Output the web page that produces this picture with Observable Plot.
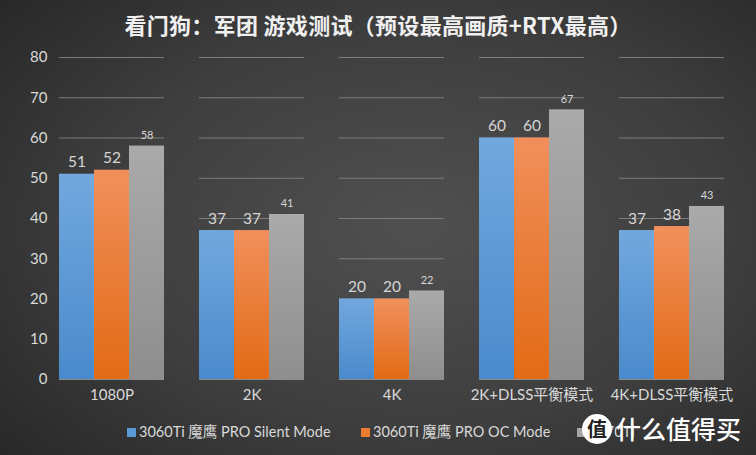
<!DOCTYPE html>
<html><head><meta charset="utf-8">
<script src="https://cdn.jsdelivr.net/npm/d3@7"></script>
<script src="https://cdn.jsdelivr.net/npm/@observablehq/plot@0.6"></script>
<style>
body{margin:0;background:#2a2a2a;}
#wrap{position:relative;width:756px;height:455px;overflow:hidden;
 background:radial-gradient(ellipse 75% 80% at 55% 50%, #505050 0%, #3e3e3e 55%, #262626 100%);
 font-family:Lato,"Noto Sans CJK SC",sans-serif;}
#title{height:42px;line-height:48px;text-align:center;color:#f0f0f0;font-weight:bold;font-size:22px;font-family:"Noto Sans CJK SC",sans-serif;letter-spacing:0.3px;}
#chart svg{display:block;}
.leg{position:absolute;top:423px;color:#d9d9d9;font-size:14.5px;font-family:Lato,"Noto Sans CJK SC",sans-serif;white-space:nowrap;line-height:17px;}
.leg i{display:inline-block;width:9px;height:9px;margin-right:3px;vertical-align:0px;}
#wm{position:absolute;left:582px;top:414px;width:30px;height:30px;border-radius:50%;background:#fff;color:#222;font:bold 20px/30px "Noto Sans CJK SC";text-align:center;}
#wmt{position:absolute;left:616px;top:410px;color:#fff;font:500 25px/36px "Noto Sans CJK SC";}
</style></head>
<body>
<div id="wrap">
  <div id="title"></div>
  <div id="chart"></div>
  <div id="legend"></div>
  <div id="wm">值</div>
  <div id="wmt">什么值得买</div>
</div>
<script>
const titleText = "看门狗：军团 游戏测试（预设最高画质+RTX最高）";
const categories = ["1080P", "2K", "4K", "2K+DLSS平衡模式", "4K+DLSS平衡模式"];
const seriesNames = ["3060Ti 魔鹰 PRO Silent Mode", "3060Ti 魔鹰 PRO OC Mode", "3070Ti"];
const silentValues = [51, 37, 20, 60, 37];
const ocValues = [52, 37, 20, 60, 38];
const tiValues = [58, 41, 22, 67, 43];
const yTicks = [0, 10, 20, 30, 40, 50, 60, 70, 80];

document.getElementById("title").textContent = titleText;

const seriesValues = [silentValues, ocValues, tiValues];
const data = [];
seriesNames.forEach((s, si) => categories.forEach((c, ci) => data.push({cat: c, series: s, value: seriesValues[si][ci]})));
const bySeries = s => data.filter(d => d.series === s);
const gradIds = ["gBlue", "gOrange", "gGray"];

const plot = Plot.plot({
  width: 756, height: 368,
  marginLeft: 40, marginRight: 14, marginTop: 15, marginBottom: 31,
  style: {background: "transparent", color: "#d9d9d9", fontFamily: "Lato, 'Noto Sans CJK SC', sans-serif", fontSize: "15px"},
  fx: {domain: categories, paddingInner: 0.25, paddingOuter: 0.125, label: null, axis: "bottom", tickSize: 0, tickPadding: 10},
  x: {domain: seriesNames, padding: 0, axis: null},
  y: {domain: [0, 80], ticks: yTicks, tickSize: 0, tickPadding: 12, label: null},
  marks: [
    Plot.ruleY(yTicks.filter(t => t > 0), {stroke: "#7c7c7c", strokeWidth: 1}),
    ...seriesNames.map((s, i) => Plot.barY(bySeries(s), {fx: "cat", x: "series", y: "value", fill: `url(#${gradIds[i]})`})),
    Plot.ruleY([0], {stroke: "#8c8c8c", strokeWidth: 1}),
    Plot.text(bySeries(seriesNames[0]).concat(bySeries(seriesNames[1])), {fx: "cat", x: "series", y: "value", text: d => String(d.value), lineAnchor: "bottom", dy: -7, fontSize: 15.5, fill: "#d6d6d6"}),
    Plot.text(bySeries(seriesNames[2]), {fx: "cat", x: "series", y: "value", text: d => String(d.value), lineAnchor: "bottom", dy: -7, fontSize: 11, fill: "#d6d6d6"})
  ]
});

// gradients for bars
const svg = d3.select(plot);
const defs = svg.insert("defs", ":first-child");
const grads = [["gBlue", "#72a8de", "#4a8acc"], ["gOrange", "#f18f5c", "#e26b15"], ["gGray", "#aaaaaa", "#8e8e8e"]];
grads.forEach(([id, a, b]) => {
  const g = defs.append("linearGradient").attr("id", id).attr("x1", 0).attr("y1", 0).attr("x2", 0).attr("y2", 1);
  g.append("stop").attr("offset", "0%").attr("stop-color", a);
  g.append("stop").attr("offset", "100%").attr("stop-color", b);
});
document.getElementById("chart").appendChild(plot);

// legend
const legColors = ["#5b9bd5", "#ed7d31", "#a5a5a5"];
const legLeft = [127, 361, 577];
const legend = document.getElementById("legend");
seriesNames.forEach((s, i) => {
  const el = document.createElement("div");
  el.className = "leg";
  el.style.left = legLeft[i] + "px";
  el.innerHTML = `<i style="background:${legColors[i]}"></i>`;
  el.appendChild(document.createTextNode(s));
  legend.appendChild(el);
});
</script>
</body></html>
